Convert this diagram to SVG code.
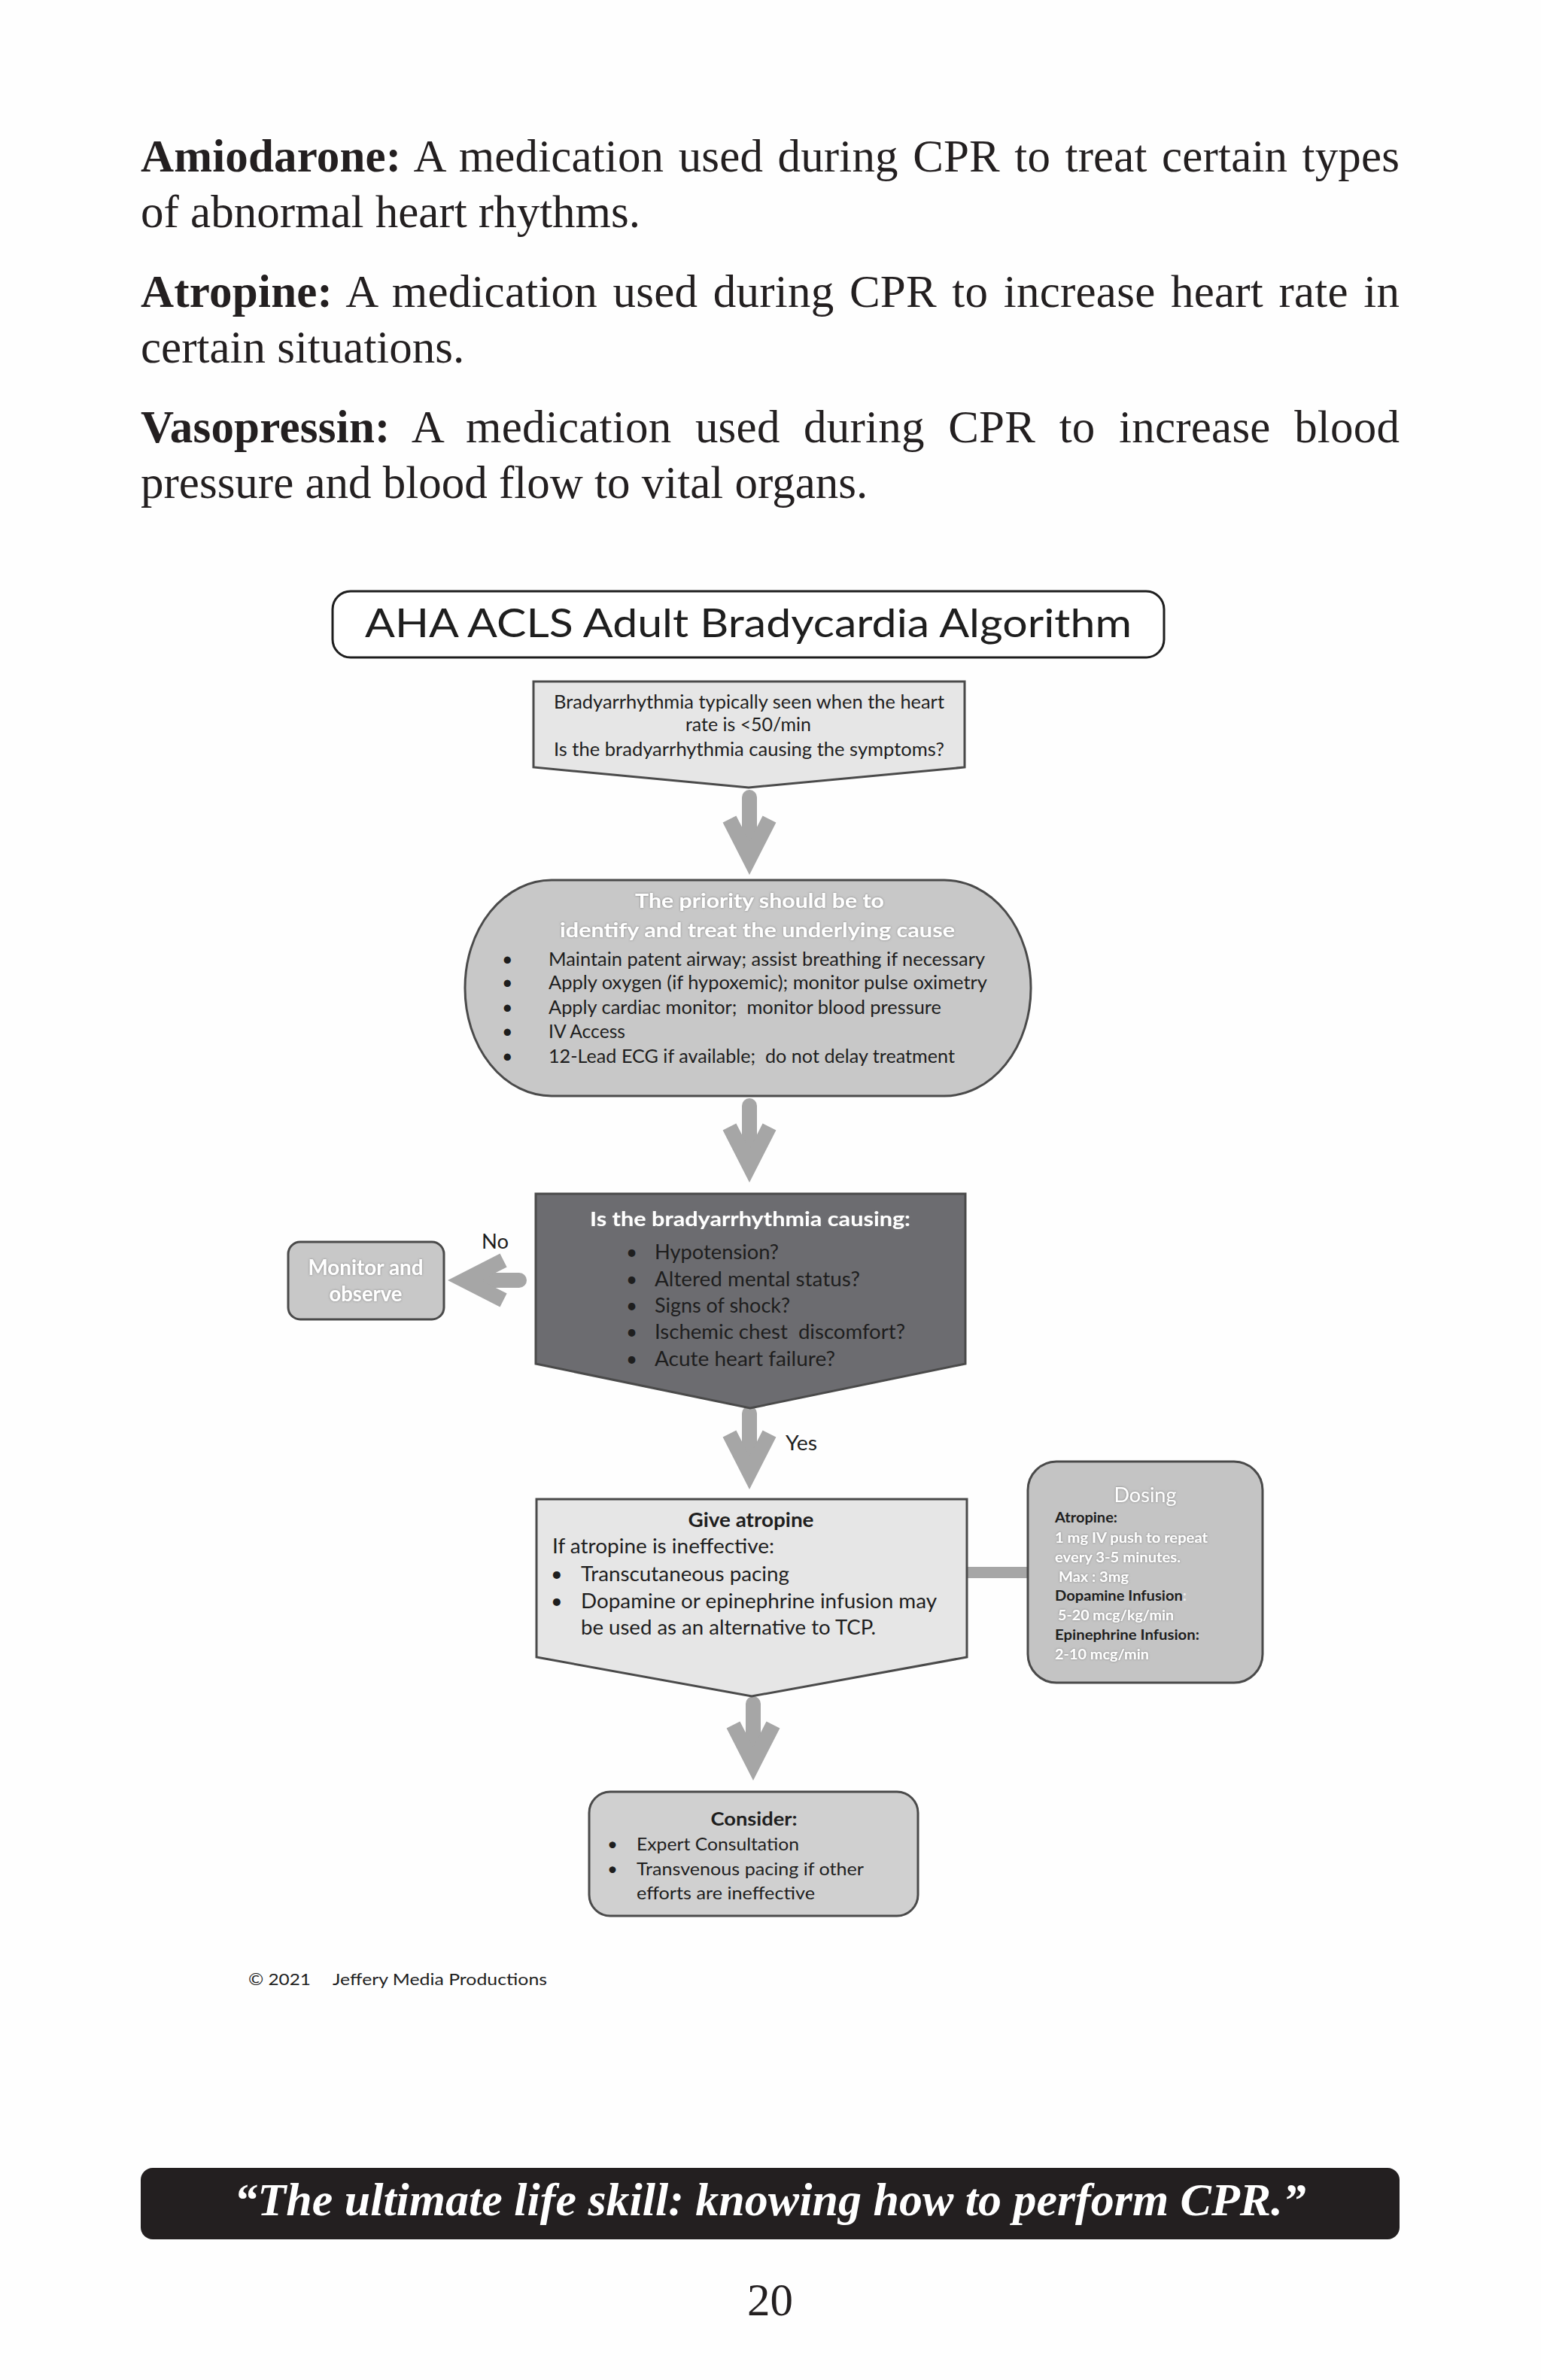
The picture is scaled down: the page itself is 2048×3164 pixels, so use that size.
<svg xmlns="http://www.w3.org/2000/svg" xmlns:xlink="http://www.w3.org/1999/xlink" width="2048" height="3164" viewBox="0 0 2048 3164">
<defs>
<style>
.body{font-family:"Liberation Serif","Times New Roman",serif;font-size:61px;fill:#231f20}
.b{font-weight:bold}
.dg{font-family:Lato,"Open Sans",sans-serif;fill:#1e1e1e}
.wt{fill:#ffffff;filter:url(#glow)}
.box{stroke:#4a4a4a;stroke-width:3}
.ah{fill:#a6a6a6}
.shaft{stroke:#a6a6a6;stroke-width:20;stroke-linecap:round;fill:none}
</style>
<filter id="glow" x="-10%" y="-30%" width="120%" height="160%">
<feDropShadow dx="0" dy="0" stdDeviation="1.5" flood-color="#7a7a7a" flood-opacity="0.9"/>
</filter>
<path id="head" d="M0,0 L-35.4,-69.5 L-17.6,-78.6 L0,-44 L17.6,-78.6 L35.4,-69.5 Z"/>
</defs>
<rect x="0" y="0" width="2048" height="3164" fill="#fefefe"/>

<g id="glossary">
<text class="body" x="187" y="228" textLength="1673" lengthAdjust="spacing" word-spacing="4"><tspan class="b">Amiodarone:</tspan> A medication used during CPR to treat certain types</text>
<text class="body" x="187" y="302">of abnormal heart rhythms.</text>
<text class="body" x="187" y="408" textLength="1673" lengthAdjust="spacing" word-spacing="5"><tspan class="b">Atropine:</tspan> A medication used during CPR to increase heart rate in</text>
<text class="body" x="187" y="482">certain situations.</text>
<text class="body" x="187" y="588" textLength="1673" lengthAdjust="spacing" word-spacing="16"><tspan class="b">Vasopressin:</tspan> A medication used during CPR to increase blood</text>
<text class="body" x="187" y="662">pressure and blood flow to vital organs.</text>
</g>

<g id="title">
<rect x="442" y="786" width="1105" height="88" rx="24" fill="#ffffff" stroke="#1e1e1e" stroke-width="3"/>
<text class="dg" x="485" y="847" font-size="53" textLength="1019" lengthAdjust="spacingAndGlyphs">AHA ACLS Adult Bradycardia Algorithm</text>
</g>

<g id="connectors">
<line class="shaft" x1="996" y1="1060" x2="996" y2="1125"/>
<use xlink:href="#head" href="#head" class="ah" transform="translate(996,1163)"/>
<line class="shaft" x1="996" y1="1470" x2="996" y2="1534"/>
<use xlink:href="#head" href="#head" class="ah" transform="translate(996,1572)"/>
<line class="shaft" x1="996" y1="1879" x2="996" y2="1942"/>
<use xlink:href="#head" href="#head" class="ah" transform="translate(996,1980)"/>
<line class="shaft" x1="1001" y1="2265" x2="1001" y2="2329"/>
<use xlink:href="#head" href="#head" class="ah" transform="translate(1001,2367)"/>
<line class="shaft" x1="690" y1="1702" x2="633" y2="1702"/>
<use xlink:href="#head" href="#head" class="ah" transform="translate(595,1702) rotate(90)"/>
<rect x="1285" y="2083" width="81" height="15" fill="#a6a6a6"/>
<text class="dg" x="640" y="1660" font-size="27" textLength="36" lengthAdjust="spacingAndGlyphs">No</text>
<text class="dg" x="1044" y="1928" font-size="27" textLength="42" lengthAdjust="spacingAndGlyphs">Yes</text>
</g>

<g id="node-bradyarrhythmia">
<path class="box" d="M709,906 H1282 V1020 L995,1047 L709,1020 Z" fill="#e6e6e6"/>
<text class="dg" x="736" y="942" font-size="25" textLength="519" lengthAdjust="spacingAndGlyphs" fill="#333">Bradyarrhythmia typically seen when the heart</text>
<text class="dg" x="911" y="972" font-size="25" textLength="167" lengthAdjust="spacingAndGlyphs">rate is &lt;50/min</text>
<text class="dg" x="736" y="1005" font-size="25" textLength="519" lengthAdjust="spacingAndGlyphs">Is the bradyarrhythmia causing the symptoms?</text>
</g>

<g id="node-priority">
<rect class="box" x="618" y="1170" width="752" height="287" rx="115" ry="143" fill="#c8c8c8"/>
<text class="dg wt b" x="844" y="1207" font-size="27" textLength="331" lengthAdjust="spacingAndGlyphs">The priority should be to</text>
<text class="dg wt b" x="744" y="1246" font-size="27" textLength="525" lengthAdjust="spacingAndGlyphs">identify and treat the underlying cause</text>
<g font-size="25">
<text class="dg" x="667" y="1284">•</text>
<text class="dg" x="729" y="1284" textLength="580" lengthAdjust="spacingAndGlyphs">Maintain patent airway; assist breathing if necessary</text>
<text class="dg" x="667" y="1315">•</text>
<text class="dg" x="729" y="1315" textLength="583" lengthAdjust="spacingAndGlyphs">Apply oxygen (if hypoxemic); monitor pulse oximetry</text>
<text class="dg" x="667" y="1348">•</text>
<text class="dg" x="729" y="1348" textLength="522" lengthAdjust="spacingAndGlyphs" style="white-space:pre">Apply cardiac monitor;  monitor blood pressure</text>
<text class="dg" x="667" y="1380">•</text>
<text class="dg" x="729" y="1380" textLength="102" lengthAdjust="spacingAndGlyphs">IV Access</text>
<text class="dg" x="667" y="1413">•</text>
<text class="dg" x="729" y="1413" textLength="540" lengthAdjust="spacingAndGlyphs" style="white-space:pre">12-Lead ECG if available;  do not delay treatment</text>
</g>
</g>

<g id="node-decision">
<path class="box" d="M712,1587 H1283 V1813 L997,1872 L712,1813 Z" fill="#6c6c70" stroke="#3a3a3a"/>
<text class="dg wt b" x="784" y="1630" font-size="27" textLength="426" lengthAdjust="spacingAndGlyphs">Is the bradyarrhythmia causing:</text>
<g font-size="26" fill="#111">
<text class="dg" x="832" y="1674">•</text>
<text class="dg" x="870" y="1674" textLength="165" lengthAdjust="spacingAndGlyphs">Hypotension?</text>
<text class="dg" x="832" y="1710">•</text>
<text class="dg" x="870" y="1710" textLength="273" lengthAdjust="spacingAndGlyphs">Altered mental status?</text>
<text class="dg" x="832" y="1745">•</text>
<text class="dg" x="870" y="1745" textLength="180" lengthAdjust="spacingAndGlyphs">Signs of shock?</text>
<text class="dg" x="832" y="1780">•</text>
<text class="dg" x="870" y="1780" textLength="333" lengthAdjust="spacingAndGlyphs" style="white-space:pre">Ischemic chest  discomfort?</text>
<text class="dg" x="832" y="1816">•</text>
<text class="dg" x="870" y="1816" textLength="240" lengthAdjust="spacingAndGlyphs">Acute heart failure?</text>
</g>
</g>

<g id="node-monitor">
<rect class="box" x="383" y="1651" width="207" height="103" rx="16" fill="#c8c8c8"/>
<text class="dg wt b" x="409.5" y="1695" font-size="28" textLength="153" lengthAdjust="spacingAndGlyphs">Monitor and</text>
<text class="dg wt b" x="437.5" y="1730" font-size="28" textLength="97" lengthAdjust="spacingAndGlyphs">observe</text>
</g>

<g id="node-atropine">
<path class="box" d="M713,1993 H1285 V2203 L999,2255 L713,2203 Z" fill="#e6e6e6"/>
<text class="dg b" x="914.5" y="2030" font-size="27" textLength="167" lengthAdjust="spacingAndGlyphs">Give atropine</text>
<text class="dg" x="734" y="2065" font-size="27" textLength="295" lengthAdjust="spacingAndGlyphs">If atropine is ineffective:</text>
<text class="dg" x="732" y="2102" font-size="27">•</text>
<text class="dg" x="772" y="2102" font-size="27" textLength="277" lengthAdjust="spacingAndGlyphs">Transcutaneous pacing</text>
<text class="dg" x="732" y="2138" font-size="27">•</text>
<text class="dg" x="772" y="2138" font-size="27" textLength="473" lengthAdjust="spacingAndGlyphs">Dopamine or epinephrine infusion may</text>
<text class="dg" x="772" y="2173" font-size="27" textLength="392" lengthAdjust="spacingAndGlyphs">be used as an alternative to TCP.</text>
</g>

<g id="node-dosing">
<rect class="box" x="1366" y="1943" width="312" height="294" rx="38" fill="#c4c4c4"/>
<text class="dg wt" x="1480.5" y="1997" font-size="27" textLength="83" lengthAdjust="spacingAndGlyphs">Dosing</text>
<g font-size="18" font-weight="bold">
<text class="dg" x="1402" y="2024" textLength="83" lengthAdjust="spacingAndGlyphs">Atropine:</text>
<text class="dg wt" x="1402" y="2051" textLength="203" lengthAdjust="spacingAndGlyphs">1 mg IV push to repeat</text>
<text class="dg wt" x="1402" y="2077" textLength="167" lengthAdjust="spacingAndGlyphs">every 3-5 minutes.</text>
<text class="dg wt" x="1407" y="2103" textLength="93" lengthAdjust="spacingAndGlyphs">Max : 3mg</text>
<text class="dg" x="1402" y="2128" textLength="175" lengthAdjust="spacingAndGlyphs">Dopamine Infusion<tspan fill="#ececec">:</tspan></text>
<text class="dg wt" x="1406" y="2154" textLength="154" lengthAdjust="spacingAndGlyphs">5-20 mcg/kg/min</text>
<text class="dg" x="1402" y="2180" textLength="192" lengthAdjust="spacingAndGlyphs">Epinephrine Infusion:</text>
<text class="dg wt" x="1402" y="2206" textLength="125" lengthAdjust="spacingAndGlyphs">2-10 mcg/min</text>
</g>
</g>

<g id="node-consider">
<rect class="box" x="783" y="2382" width="437" height="165" rx="28" fill="#d0d0d0"/>
<text class="dg b" x="944.5" y="2427" font-size="25" textLength="115" lengthAdjust="spacingAndGlyphs">Consider:</text>
<text class="dg" x="807" y="2460" font-size="24">•</text>
<text class="dg" x="846" y="2460" font-size="24" textLength="216" lengthAdjust="spacingAndGlyphs">Expert Consultation</text>
<text class="dg" x="807" y="2493" font-size="24">•</text>
<text class="dg" x="846" y="2493" font-size="24" textLength="302" lengthAdjust="spacingAndGlyphs">Transvenous pacing if other</text>
<text class="dg" x="846" y="2525" font-size="24" textLength="237" lengthAdjust="spacingAndGlyphs">efforts are ineffective</text>
</g>

<g id="copyright">
<text class="dg" x="330" y="2639" font-size="21" fill="#333" textLength="83" lengthAdjust="spacingAndGlyphs">© 2021</text>
<text class="dg" x="442" y="2639" font-size="21" fill="#333" textLength="285" lengthAdjust="spacingAndGlyphs">Jeffery Media Productions</text>
</g>

<g id="footer">
<rect x="187" y="2882" width="1673" height="95" rx="16" fill="#231f20"/>
<text x="1023.5" y="2945" text-anchor="middle" font-family="Liberation Serif, Times New Roman, serif" font-size="62" font-weight="bold" font-style="italic" fill="#ffffff">“The ultimate life skill: knowing how to perform CPR.”</text>
<text class="body" x="1023.5" y="3078" text-anchor="middle">20</text>
</g>
</svg>
